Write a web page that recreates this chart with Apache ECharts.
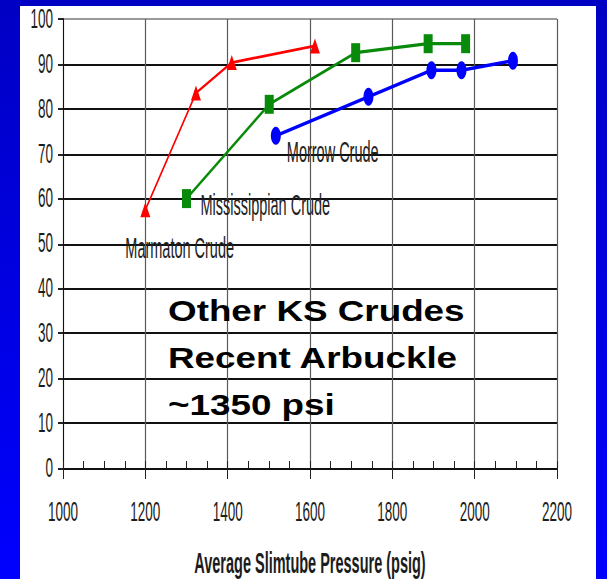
<!DOCTYPE html>
<html>
<head>
<meta charset="utf-8">
<script src="https://cdn.jsdelivr.net/npm/echarts/dist/echarts.min.js"></script>
<style>
  html, body { margin: 0; padding: 0; width: 607px; height: 579px; overflow: hidden; background: #0000e0; }
  /* the chart is laid out at half height and stretched vertically, like a tall slide graphic */
  #chart { width: 607px; height: 290px; transform: scaleY(2); transform-origin: 0 0; }
</style>
</head>
<body>
<div id="chart"></div>
<script>
// Slimtube MMP curves: recovery (%) vs average slimtube pressure (psig)
const seriesNames = ['Marmaton Crude', 'Mississippian Crude', 'Morrow Crude'];
const marmaton = [[1200, 57.5], [1323, 83.5], [1410, 90.3], [1612, 94]];
const mississippian = [[1300, 60], [1501, 81], [1711, 92.5], [1887, 94.5], [1978, 94.5]];
const morrow = [[1517, 74], [1742, 82.7], [1895, 88.6], [1968, 88.6], [2093, 90.7]];

const xTicks = [1000, 1200, 1400, 1600, 1800, 2000, 2200];
const yTicks = [0, 10, 20, 30, 40, 50, 60, 70, 80, 90, 100];
const xMinorStep = 50;
const xTitle = 'Average Slimtube Pressure (psig)';
const noteLines = ['Other KS Crudes', 'Recent Arbuckle', '~1350 psi'];

const FONT = '"Liberation Sans", Arial, Helvetica, sans-serif';
const TEXT = '#1c1c1c';

// per-series look: colour, marker, marker box, name label offset from first point
const looks = [
  { color: '#ff0000', symbol: 'triangle', size: [10, 7.5], width: 1.4, offset: [-20, 19] },
  { color: '#0a8a0a', symbol: 'rect', size: [9, 9.5], width: 1.6, offset: [14, 3] },
  { color: '#0000ff', symbol: 'circle', size: [10, 9], width: 1.8, offset: [11, 8] }
];
const datasets = [marmaton, mississippian, morrow];

const series = datasets.map((pts, i) => ({
  name: seriesNames[i],
  type: 'line',
  xAxisIndex: 0,
  yAxisIndex: 0,
  symbol: looks[i].symbol,
  symbolSize: looks[i].size,
  showAllSymbol: true,
  lineStyle: { color: looks[i].color, width: looks[i].width },
  itemStyle: { color: looks[i].color },
  emphasis: { disabled: true },
  z: 3,
  data: pts.map((p, k) => k === 0 ? {
    value: p,
    label: {
      show: true,
      position: 'inside',
      align: 'left',
      verticalAlign: 'middle',
      offset: looks[i].offset,
      formatter: seriesNames[i],
      color: '#222',
      fontFamily: FONT,
      fontSize: 14.5
    }
  } : { value: p })
}));

const chart = echarts.init(document.getElementById('chart'), null, { renderer: 'svg' });

chart.setOption({
  animation: false,
  backgroundColor: {
    type: 'linear', x: 0, y: 0, x2: 0, y2: 1,
    colorStops: [{ offset: 0, color: '#0000c4' }, { offset: 1, color: '#0000ff' }]
  },
  grid: { left: 63, right: 50, top: 9.5, bottom: 56, containLabel: false, outerBoundsMode: 'none' },
  xAxis: [
    {
      type: 'value',
      min: xTicks[0],
      max: xTicks[xTicks.length - 1],
      interval: xTicks[1] - xTicks[0],
      name: xTitle,
      nameLocation: 'middle',
      nameGap: 40,
      nameTextStyle: { fontFamily: FONT, fontSize: 14.5, fontWeight: 'bold', color: TEXT, padding: [0, 0, 0, 0] },
      axisLine: { show: true, onZero: false, lineStyle: { color: '#111', width: 1 } },
      axisTick: { show: true, inside: false, length: 5.5, lineStyle: { color: '#222', width: 1 } },
      axisLabel: {
        margin: 15, fontFamily: FONT, fontSize: 13.5, color: TEXT,
        formatter: v => String(xTicks.find(t => t === v) ?? v)
      },
      splitLine: { show: true, lineStyle: { color: '#5a5a5a', width: 1.2 } }
    },
    {
      // minor ticks every 50 psig, pointing into the plot
      type: 'value',
      position: 'bottom',
      offset: 0,
      min: xTicks[0],
      max: xTicks[xTicks.length - 1],
      interval: xMinorStep,
      axisLine: { show: false },
      axisTick: { show: true, inside: true, length: 3.5, lineStyle: { color: '#222', width: 1 } },
      axisLabel: { show: false },
      splitLine: { show: false }
    }
  ],
  yAxis: {
    type: 'value',
    min: yTicks[0],
    max: yTicks[yTicks.length - 1],
    interval: yTicks[1] - yTicks[0],
    axisLine: { show: true, lineStyle: { color: '#111', width: 1 } },
    axisTick: { show: true, inside: false, length: 5, lineStyle: { color: '#222', width: 1 } },
    axisLabel: {
      margin: 10, fontFamily: FONT, fontSize: 13.5, color: TEXT,
      formatter: v => String(yTicks.find(t => t === v) ?? v)
    },
    splitLine: {
      show: true,
      lineStyle: {
        color: ['#111', '#111', '#111', '#111', '#111', '#111', '#111', '#111', '#111', '#111', '#9a9a9a'],
        width: 1
      }
    }
  },
  graphic: [
    {
      type: 'rect',
      z: -100,
      silent: true,
      shape: { x: 20, y: 3, width: 576, height: 300 },
      style: { fill: '#ffffff' }
    },
    {
      type: 'text',
      z: 100,
      x: 168,
      y: 143.5,
      scaleX: 1.27,
      scaleY: 0.5,
      silent: true,
      style: {
        text: noteLines.join('\n'),
        fontFamily: FONT,
        fontWeight: 'bold',
        fontSize: 29,
        lineHeight: 47,
        fill: '#000',
        align: 'left',
        verticalAlign: 'top'
      }
    }
  ],
  series: series
});
</script>
</body>
</html>
